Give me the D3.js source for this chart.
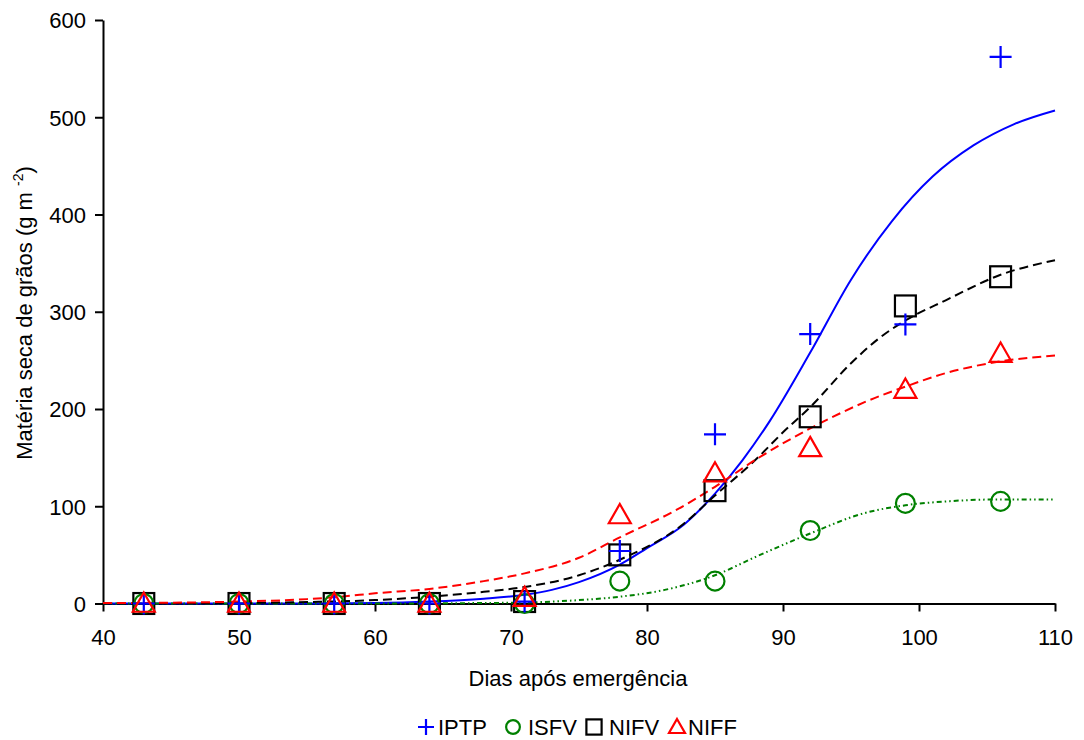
<!DOCTYPE html>
<html>
<head>
<meta charset="utf-8">
<script src="https://d3js.org/d3.v7.min.js"></script>
<style>
  body { margin: 0; background: white; }
  svg { font-family: "Liberation Sans", Arial, sans-serif; }
</style>
</head>
<body>
<svg width="1084" height="740"></svg>
<script>
// observed days
var days = [43, 50, 57, 64, 71, 78, 85, 92, 99, 106];
var iptp = [0, 0, 0, 0, 2, 54, 174, 277, 287, 562];
var isfv = [0, 0, 0, 0, 0, 23, 23, 75, 103, 105];
var nifv = [0, 0, 0, 0, 2, 50, 116, 192, 306, 336];
var niff = [0, 0, 0, 0, 6, 91, 134, 160, 220, 257];

// fitted curves
var fitIptpX = [40, 55, 60, 64, 68, 71, 73, 75, 78, 80, 82.7, 85, 87, 89, 92, 95, 98, 101, 104, 107, 110];
var fitIptpY = [0, 0, 0.5, 2, 5, 9, 14, 22, 40, 57, 81, 113, 147, 187, 258, 333, 393, 439, 471, 493, 507];
var fitIsfvX = [40, 60, 68, 71, 75, 78, 81.3, 85, 88, 92, 96, 99, 102, 106, 110];
var fitIsfvY = [0, 0, 0.5, 1, 3.5, 7, 14, 29, 48, 72, 93, 101, 105, 107, 107];
var fitNifvX = [40, 50, 55, 60, 64, 68, 71, 75, 78, 82.7, 85, 88, 90, 92, 95, 97, 99, 102, 106, 110];
var fitNifvY = [0, 0.5, 1.5, 3.5, 7, 12, 17, 29, 45, 82, 111, 148, 176, 202, 247, 272, 291, 312, 338, 353];
var fitNiffX = [40, 45, 50, 55, 57.5, 60, 64, 68, 71, 75, 78, 82, 85, 88, 92, 96, 99, 102, 106, 110];
var fitNiffY = [0.5, 0.8, 2, 4.5, 7, 10.5, 15, 23, 31, 47, 68, 95, 120, 148, 180, 207, 223, 237, 249, 255];

var xTicks = [40, 50, 60, 70, 80, 90, 100, 110];
var yTicks = [0, 100, 200, 300, 400, 500, 600];
var names = ["IPTP", "ISFV", "NIFV", "NIFF"];
var colors = ["#0000ff", "#008000", "#000000", "#ff0000"];

var svg = d3.select("svg");
var x = d3.scaleLinear().domain([40, 110]).range([103, 1055]);
var y = d3.scaleLinear().domain([0, 600]).range([603.5, 20]);

// axes
var xAxis = svg.append("g").attr("transform", "translate(0," + y(0) + ")")
  .call(d3.axisBottom(x).tickValues(xTicks).tickSize(8).tickSizeOuter(0).tickPadding(18));
var yAxis = svg.append("g").attr("transform", "translate(" + x(40) + ",0)")
  .call(d3.axisLeft(y).tickValues(yTicks).tickSize(8).tickSizeOuter(0).tickPadding(9));
[xAxis, yAxis].forEach(function (a) {
  a.selectAll("path, line").attr("stroke", "#000").attr("stroke-width", 2);
  a.selectAll("text").attr("font-size", 22).attr("fill", "#000")
    .attr("font-family", "'Liberation Sans', Arial, sans-serif");
});
yAxis.selectAll("text").attr("dy", "0.36em");

// fitted lines
var line = d3.line().x(function (d) { return x(d[0]); }).y(function (d) { return y(d[1]); })
  .curve(d3.curveMonotoneX);
var fits = [
  [fitIptpX, fitIptpY, null],
  [fitIsfvX, fitIsfvY, "5,3,1.5,3,1.5,3"],
  [fitNifvX, fitNifvY, "9,5"],
  [fitNiffX, fitNiffY, "9,5"]
];
fits.forEach(function (f, i) {
  svg.append("path")
    .datum(d3.zip(f[0], f[1]))
    .attr("d", line)
    .attr("fill", "none")
    .attr("stroke", colors[i])
    .attr("stroke-width", 2)
    .attr("stroke-dasharray", f[2]);
});

// marker shapes
function marker(g, k, s) {
  if (k == 0) {
    g.append("path").attr("d", "M" + (-s) + ",0H" + s + "M0," + (-s) + "V" + s);
  } else if (k == 1) {
    g.append("circle").attr("r", s * 0.86);
  } else if (k == 2) {
    g.append("rect").attr("x", -s * 0.95).attr("y", -s * 0.95).attr("width", s * 1.9).attr("height", s * 1.9);
  } else {
    g.append("path").attr("d", "M0," + (-s) + "L" + s + "," + (s * 0.75) + "L" + (-s) + "," + (s * 0.75) + "Z");
  }
  g.selectAll("*").attr("fill", "none").attr("stroke", colors[k]).attr("stroke-width", 2.2);
}

var series = [iptp, isfv, nifv, niff];
var drawOrder = [2, 1, 0, 3];
drawOrder.forEach(function (k) {
  series[k].forEach(function (v, j) {
    var g = svg.append("g").attr("transform", "translate(" + x(days[j]) + "," + y(v) + ")");
    marker(g, k, 11);
  });
});

// axis titles
svg.append("text")
  .attr("x", 578).attr("y", 686)
  .attr("text-anchor", "middle").attr("font-size", 22)
  .text("Dias após emergência");

var yl = svg.append("text")
  .attr("transform", "translate(32,313) rotate(-90)")
  .attr("text-anchor", "middle").attr("font-size", 22);
yl.append("tspan").text("Matéria seca de grãos (g m ");
yl.append("tspan").attr("font-size", 14).attr("dy", -9).text(" -2");
yl.append("tspan").attr("dy", 9).text(")");

// legend
var legX = [426, 513, 594, 677];
var legText = [438, 528, 609, 688];
names.forEach(function (n, k) {
  var g = svg.append("g").attr("transform", "translate(" + legX[k] + ",727)");
  marker(g, k, 8);
  svg.append("text").attr("x", legText[k]).attr("y", 735)
    .attr("font-size", 22).text(n);
});
</script>
</body>
</html>
